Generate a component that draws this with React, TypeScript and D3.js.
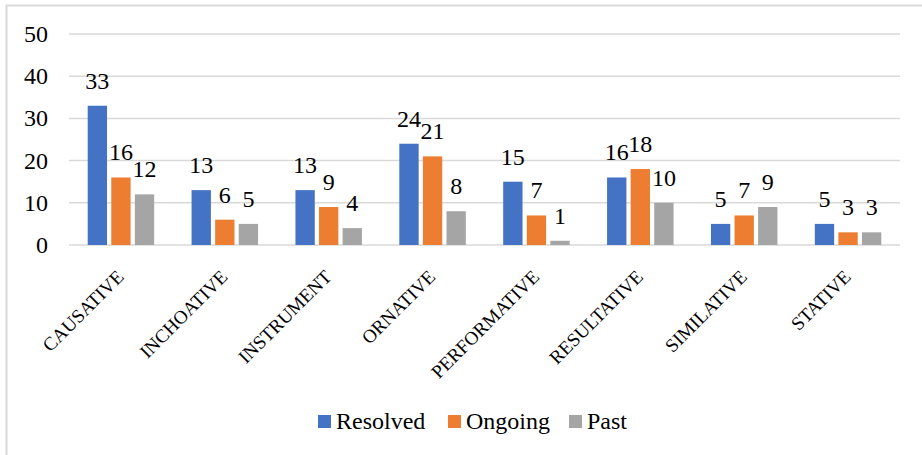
import React from "react";
import * as d3 from "d3";

const categories = [
  "CAUSATIVE",
  "INCHOATIVE",
  "INSTRUMENT",
  "ORNATIVE",
  "PERFORMATIVE",
  "RESULTATIVE",
  "SIMILATIVE",
  "STATIVE",
];
const seriesNames = ["Resolved", "Ongoing", "Past"];
const resolved = [33, 13, 13, 24, 15, 16, 5, 5];
const ongoing = [16, 6, 9, 21, 7, 18, 7, 3];
const past = [12, 5, 4, 8, 1, 10, 9, 3];
const yTicks = [0, 10, 20, 30, 40, 50];
const colors = ["#4472C4", "#ED7D31", "#A5A5A5"];

const W = 922;
const H = 455;
const plot = { left: 69, right: 900, top: 34, bottom: 245 };
const SERIF = "Liberation Serif";

function Label(props: {
  x?: number;
  y?: number;
  dy?: string;
  transform?: string;
  anchor?: "start" | "middle" | "end";
  size: number;
  children: React.ReactNode;
}) {
  return (
    <text
      x={props.x}
      y={props.y}
      dy={props.dy}
      transform={props.transform}
      textAnchor={props.anchor ?? "start"}
      fontSize={props.size}
      fontFamily={SERIF}
      fill="#000"
      style={{ fontFamily: SERIF }}
    >
      {props.children}
    </text>
  );
}

export default function App() {
  const series = [resolved, ongoing, past];
  const x0 = d3
    .scaleBand<string>()
    .domain(categories)
    .range([plot.left, plot.right])
    .paddingInner(0.36)
    .paddingOuter(0.18);
  const x1 = d3
    .scaleBand<string>()
    .domain(seriesNames)
    .range([0, x0.bandwidth()])
    .paddingInner(0.18);
  const y = d3.scaleLinear().domain([0, 50]).range([plot.bottom, plot.top]);

  return (
    <svg
      width={W}
      height={H}
      fontFamily={SERIF}
      style={{ position: "absolute", left: 0, top: 0, background: "#fff" }}
    >
      <style>{`text { font-family: "Liberation Serif"; }`}</style>
      <rect x={0} y={0} width={W} height={H} fill="#fff" />
      <rect
        x={6.5}
        y={5.5}
        width={W}
        height={H}
        fill="none"
        stroke="#d9d9d9"
        strokeWidth={2}
      />
      {yTicks.map((t) => (
        <g key={t}>
          <line
            x1={plot.left}
            x2={plot.right}
            y1={y(t)}
            y2={y(t)}
            stroke="#d9d9d9"
            strokeWidth={1.5}
          />
          <Label x={plot.left - 21} y={y(t)} dy="0.33em" anchor="end" size={24}>
            {t}
          </Label>
        </g>
      ))}
      {categories.map((c, i) => (
        <g key={c} transform={`translate(${x0(c)},0)`}>
          {series.map((vals, s) => {
            const bx = x1(seriesNames[s])!;
            const by = y(vals[i]);
            return (
              <g key={s}>
                <rect
                  x={bx}
                  y={by}
                  width={x1.bandwidth()}
                  height={plot.bottom - by}
                  fill={colors[s]}
                />
                <Label
                  x={bx + x1.bandwidth() / 2}
                  y={by - 17}
                  anchor="middle"
                  size={24}
                >
                  {vals[i]}
                </Label>
              </g>
            );
          })}
        </g>
      ))}
      {categories.map((c) => {
        const cx = x0(c)! + x0.bandwidth() / 2 + 4;
        const cy = plot.bottom + 33;
        return (
          <Label
            key={c}
            transform={`translate(${cx},${cy}) rotate(-45)`}
            anchor="end"
            size={19}
          >
            {c}
          </Label>
        );
      })}
      <g transform="translate(318,415)">
        {seriesNames.map((n, s) => {
          const offs = [0, 130, 251];
          return (
            <g key={n} transform={`translate(${offs[s]},0)`}>
              <rect x={0} y={0} width={13} height={13} fill={colors[s]} />
              <Label x={18} y={14} size={24}>
                {n}
              </Label>
            </g>
          );
        })}
      </g>
    </svg>
  );
}
